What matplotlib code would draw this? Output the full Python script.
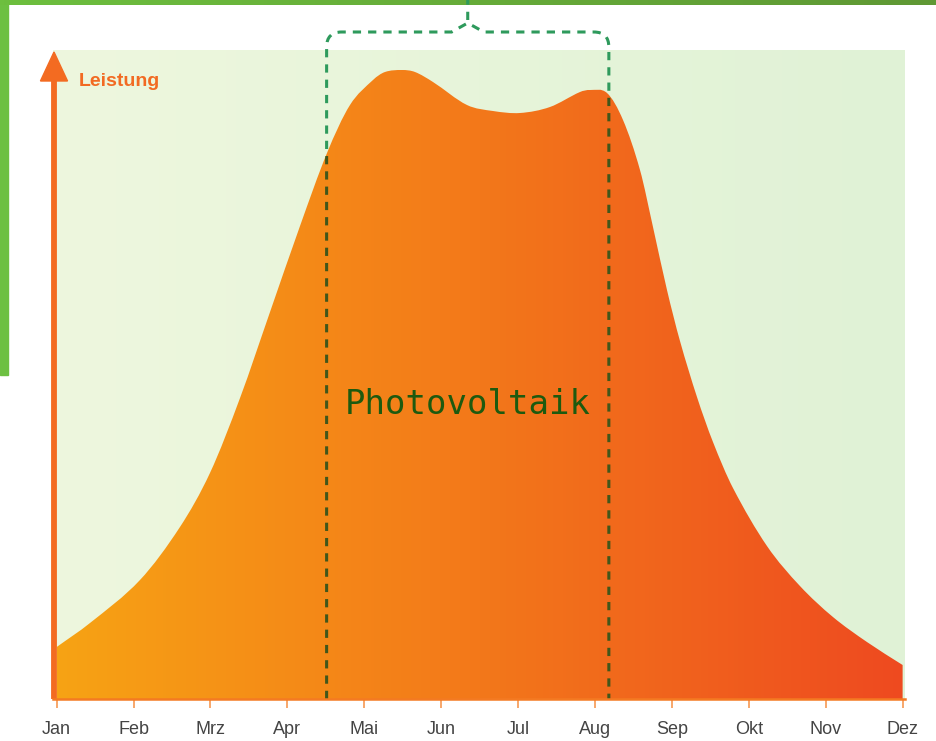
import numpy as np
import matplotlib.pyplot as plt
from matplotlib.colors import LinearSegmentedColormap
from matplotlib.patches import Rectangle, PathPatch
from matplotlib.path import Path

# month axis
months = ['Jan', 'Feb', 'Mrz', 'Apr', 'Mai', 'Jun', 'Jul', 'Aug', 'Sep', 'Okt', 'Nov', 'Dez']
month_pos = np.arange(12)

# Leistung over the year (month index, relative height)
curve_x = [0.000, 0.433, 1.083, 1.603, 1.993, 2.384, 2.774, 3.164, 3.515, 3.814,
           4.113, 4.269, 4.490, 4.659, 4.893, 5.335, 5.673, 6.024, 6.414, 6.805,
           6.935, 7.156, 7.364, 7.585, 7.754, 7.936, 8.105, 8.326, 8.534, 8.794,
           9.236, 9.665, 10.094, 10.536, 11.000]
curve_y = [52, 76, 119, 172, 226, 301, 387, 473, 546, 594,
           619, 627, 629, 627, 617, 594, 588, 586, 592, 607,
           609, 606, 579, 529, 472, 409, 358, 302, 257, 211,
           153, 113, 82, 57, 34]

# photovoltaik season (month index)
pv_start = 3.51
pv_end = 7.18
pv_label = 'Photovoltaik'
y_label = 'Leistung'


def smooth_area(xs, ys):
    # closed area under the points, drawn with cubic bezier segments
    xs = np.asarray(xs, float)
    ys = np.asarray(ys, float)
    n = len(xs)
    m = np.zeros(n)
    m[0] = (ys[1] - ys[0]) / (xs[1] - xs[0])
    m[-1] = (ys[-1] - ys[-2]) / (xs[-1] - xs[-2])
    m[1:-1] = (ys[2:] - ys[:-2]) / (xs[2:] - xs[:-2])
    verts = [(xs[0], 0), (xs[0], ys[0])]
    codes = [Path.MOVETO, Path.LINETO]
    for i in range(n - 1):
        h = xs[i + 1] - xs[i]
        verts += [(xs[i] + h / 3, ys[i] + m[i] * h / 3),
                  (xs[i + 1] - h / 3, ys[i + 1] - m[i + 1] * h / 3),
                  (xs[i + 1], ys[i + 1])]
        codes += [Path.CURVE4] * 3
    verts += [(xs[-1], 0), (xs[0], 0)]
    codes += [Path.LINETO, Path.CLOSEPOLY]
    return Path(verts, codes)


W, H = 937, 741
fig = plt.figure(figsize=(W / 100, H / 100), dpi=100)
fig.patch.set_facecolor('white')

sans = ['Liberation Sans', 'DejaVu Sans']

# green frame of the page
bar = fig.add_axes([0, 1 - 5 / H, 1, 5 / H])
bar.axis('off')
bar.imshow(np.linspace(0, 1, 256)[None, :], aspect='auto', extent=(0, 1, 0, 1),
           cmap=LinearSegmentedColormap.from_list('g', ['#6dbf3e', '#5f9834']))
fig.add_artist(Rectangle((0, 1 - 375 / H), 8 / W, 375 / H, transform=fig.transFigure,
                         color='#6dc041', zorder=0))

# main axes, x in months, y in relative power
x0, x1 = -0.048, 11.031
ytop = 649
ax = fig.add_axes([53 / W, (H - 699) / H, (905 - 53) / W, ytop / H])

grad = np.linspace(0, 1, 256)[None, :]
bg_cmap = LinearSegmentedColormap.from_list('bg', ['#eef7de', '#e0f2d6'])
ax.imshow(grad, aspect='auto', extent=(x0, x1, 0, ytop), cmap=bg_cmap, zorder=0)

area = PathPatch(smooth_area(curve_x, curve_y), facecolor='none', edgecolor='none')
ax.add_patch(area)
or_cmap = LinearSegmentedColormap.from_list('or', ['#f7a314', '#f3781a', '#ee4a20'])
im = ax.imshow(grad, aspect='auto', extent=(0, 11, 0, ytop), cmap=or_cmap, zorder=2)
im.set_clip_path(area)

# dashed bracket around the PV season
mid = (pv_start + pv_end) / 2
top_y = 667
rx, ry = 0.195, 15
verts = [(pv_start, 0), (pv_start, top_y - ry), (pv_start, top_y), (pv_start + rx, top_y),
         (mid - 0.21, top_y), (mid, top_y + 9), (mid + 0.21, top_y),
         (pv_end - rx, top_y), (pv_end, top_y), (pv_end, top_y - ry), (pv_end, 0),
         (mid, top_y + 12), (mid, 700)]
codes = [Path.MOVETO, Path.LINETO, Path.CURVE3, Path.CURVE3,
         Path.LINETO, Path.LINETO, Path.LINETO,
         Path.LINETO, Path.CURVE3, Path.CURVE3, Path.LINETO,
         Path.MOVETO, Path.LINETO]
bracket = Path(verts, codes)
dash = (0, (2.7, 2.3))
ax.add_patch(PathPatch(bracket, fill=False, edgecolor='#2e9a5c', lw=2.2,
                       linestyle=dash, clip_on=False, zorder=1.5))
inner = PathPatch(bracket, fill=False, edgecolor='#41561a', lw=2.2,
                  linestyle=dash, zorder=3)
ax.add_patch(inner)
inner.set_clip_path(area)

ax.text(mid, 295, pv_label, ha='center', va='center', fontfamily='DejaVu Sans Mono',
        fontsize=24.5, color='#1d5a0f', zorder=4)

# y axis arrow
x_ax = -0.035
ax.plot([x_ax, x_ax], [0, 622], color='#f36b21', lw=4.2, clip_on=False,
        solid_capstyle='butt', zorder=5)
ax.fill([x_ax - 0.176, x_ax, x_ax + 0.176], [618, 647, 618], color='#f36b21',
        clip_on=False, zorder=5)
ax.text(0.29, 613, y_label, ha='left', va='baseline', fontfamily=sans,
        fontweight='bold', fontsize=14, color='#f26a22', zorder=5)

ax.set_xlim(x0, x1)
ax.set_ylim(0, ytop)
for s in ['top', 'right', 'left']:
    ax.spines[s].set_visible(False)
ax.spines['bottom'].set_color('#f47a22')
ax.spines['bottom'].set_linewidth(1.8)
ax.spines['bottom'].set_zorder(6)
ax.set_yticks([])
ax.set_xticks(month_pos, months)
ax.tick_params(axis='x', length=6.5, width=1.3, color='#f7a060', labelcolor='#444444',
               labelsize=13, pad=9)
for lbl in ax.get_xticklabels():
    lbl.set_fontfamily(sans)

fig.savefig('out.png', dpi=100)
